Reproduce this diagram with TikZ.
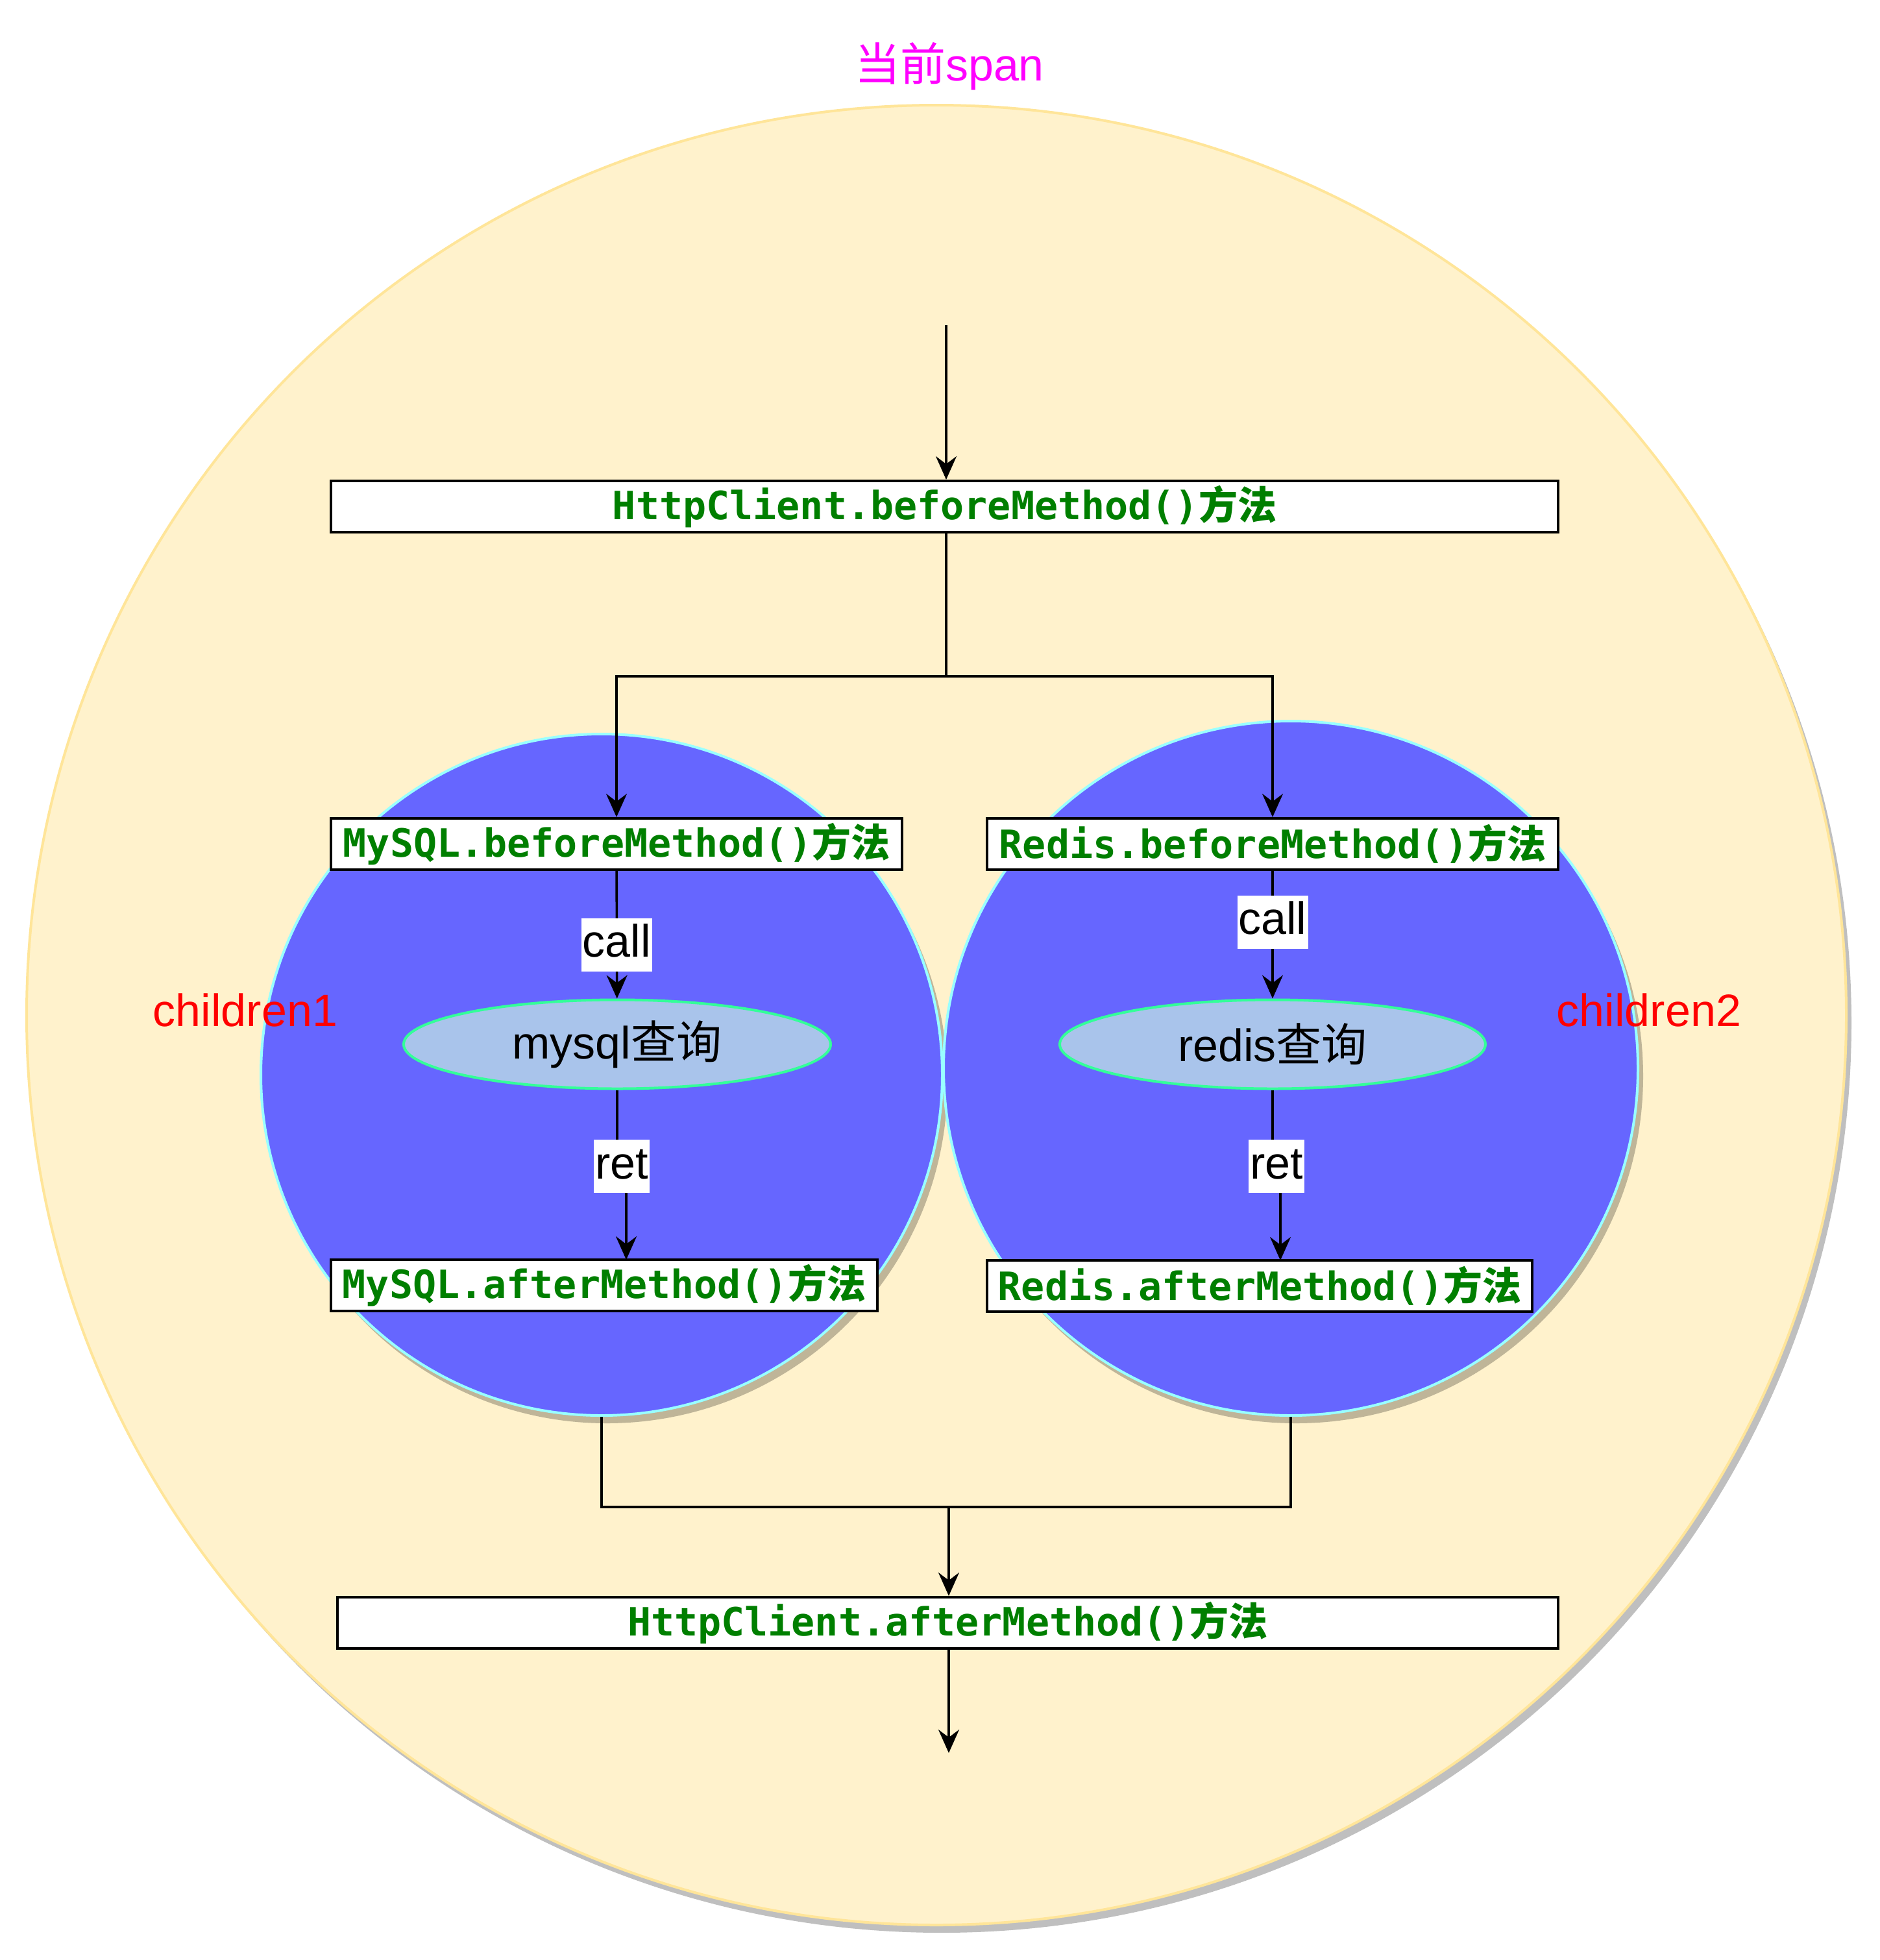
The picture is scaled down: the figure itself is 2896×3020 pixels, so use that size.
\documentclass[tikz,border=0pt]{standalone}
\usepackage{fontspec}
\setmainfont{Liberation Sans}
\newfontfamily\cjk{Noto Sans CJK SC}
\newfontfamily\codefont{DejaVu Sans Mono}
\usetikzlibrary{arrows.meta,shapes.geometric,shadows}

\definecolor{spanfill}{HTML}{FFF2CC}
\definecolor{spanline}{HTML}{FFE599}
\definecolor{childfill}{HTML}{6666FF}
\definecolor{childline}{HTML}{99FFFF}
\definecolor{queryfill}{HTML}{A9C4EB}
\definecolor{queryline}{HTML}{33FF99}
\definecolor{codegreen}{HTML}{007F00}
\definecolor{titlepink}{HTML}{FF00FF}
\definecolor{tagred}{HTML}{FF0000}

\newcommand{\zh}[1]{{\cjk #1}}
\newcommand{\labelsize}{\fontsize{17.5}{21}\selectfont}

\tikzset{
  >={Stealth[length=9pt,width=8pt,inset=3pt]},
  conn/.style={line width=0.9pt},
  shade/.style={drop shadow={shadow xshift=2pt,shadow yshift=-3pt,opacity=0.25,fill=black}},
  spanball/.style={circle,draw=spanline,line width=1pt,fill=spanfill,inner sep=0pt,shade},
  childball/.style={circle,draw=childline,line width=1pt,fill=childfill,inner sep=0pt,shade},
  codebox/.style={draw,line width=1pt,fill=white,inner sep=0pt,minimum height=19.75pt,
    text=codegreen,font=\codefont\bfseries\fontsize{15}{18}\selectfont},
  query/.style={ellipse,draw=queryline,line width=1pt,fill=queryfill,inner sep=0pt,
    minimum height=34.25pt,font=\labelsize},
  edgelab/.style={fill=white,inner xsep=0.5pt,inner ysep=1.5pt,text height=13.5pt,text depth=4pt,font=\labelsize},
  tag/.style={font=\labelsize}
}

\begin{document}
\begin{tikzpicture}[x=0.25pt,y=-0.25pt]
\useasboundingbox (0,0) rectangle (2896,3020);

% --- outer span ---
\node[spanball,minimum size=701pt] (span) at (1443,1564) {};
\node[tag,text=titlepink] (spantitle) at (1463,102) {\zh{当前}span};

% --- child spans ---
\node[childball,minimum size=262.5pt] (c1) at (927,1656) {};
\node[childball,minimum size=267.5pt] (c2) at (1989,1646) {};
\node[tag,text=tagred] (c1tag) at (378,1556) {children1};
\node[tag,text=tagred] (c2tag) at (2541,1556) {children2};

% --- method boxes ---
\node[codebox,minimum width=472.75pt] (hbefore) at (1455.5,780.5) {HttpClient.beforeMethod()\zh{方法}};
\node[codebox,minimum width=220pt] (mbefore) at (950,1300.5) {MySQL.beforeMethod()\zh{方法}};
\node[codebox,minimum width=220pt] (rbefore) at (1961,1300.5) {Redis.beforeMethod()\zh{方法}};
\node[codebox,minimum width=210.5pt] (mafter) at (931,1980.5) {MySQL.afterMethod()\zh{方法}};
\node[codebox,minimum width=210pt] (rafter) at (1941,1981.5) {Redis.afterMethod()\zh{方法}};
\node[codebox,minimum width=470.25pt] (hafter) at (1460.5,2500.5) {HttpClient.afterMethod()\zh{方法}};

% --- queries ---
\node[query,minimum width=164.5pt] (mq) at (951,1609) {mysql\zh{查询}};
\node[query,minimum width=164pt] (rq) at (1961,1609) {redis\zh{查询}};

% --- connectors ---
\coordinate (in) at (1458,501);
\coordinate (fork) at (1458,1042);
\coordinate (join) at (1462,2322);
\coordinate (out) at (1462,2701);
\coordinate (mretc) at (958,1797);
\coordinate (rretc) at (1967,1797);
\coordinate (mend) at (965,1941);
\coordinate (rend) at (1973,1942);

\draw[conn,->] (in) -- (hbefore.north -| in);
\draw[conn] (hbefore.south -| fork) -- (fork);
\draw[conn,->] (fork) -| (mbefore);
\draw[conn,->] (fork) -| (rbefore);

\draw[conn,->] (mbefore) -- node[edgelab,pos=0.58] (mcall) {call} (mq);
\draw[conn,->] (rbefore) -- node[edgelab,pos=0.4] (rcall) {call} (rq);

\draw[conn,->] (mq) |- (mretc) -| (mend);
\draw[conn,->] (rq) |- (rretc) -| (rend);
\node[edgelab] (mret) at (mretc) {ret};
\node[edgelab] (rret) at (rretc) {ret};

\draw[conn] (c1) |- (join) -| (c2);
\draw[conn,->] (join) -- (hafter.north -| join);
\draw[conn,->] (hafter.south -| out) -- (out);

\end{tikzpicture}
\end{document}
